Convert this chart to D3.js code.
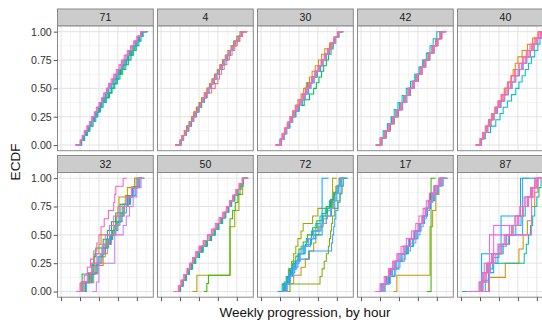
<!DOCTYPE html>
<html>
<head>
<meta charset="utf-8">
<script src="https://cdn.jsdelivr.net/npm/d3@7"></script>
<style>
body { margin: 0; background: #fff; }
svg { display: block; font-family: "Liberation Sans", Arial, sans-serif; }
</style>
</head>
<body>
<svg id="chart" width="542" height="322"></svg>
<script>
// facets, in drawing order (2 rows x 5 columns)
const panels = ["71", "4", "30", "42", "40", "32", "50", "72", "17", "87"]
const yTicks = [0, 0.25, 0.5, 0.75, 1]
const xTicks = [0, 36, 72, 108, 144]
const xDomain = [1.5, 167]
const levels = d3.range(1, 21)
const palette = ["#F8766D", "#EA8331", "#D89000", "#C09B00", "#A3A500", "#7CAE00", "#39B600",
    "#00BB4E", "#00BF7D", "#00C1A3", "#00BFC4", "#00BAE0", "#00B0F6", "#35A2FF", "#9590FF",
    "#C77CFF", "#E76BF3", "#FA62DB", "#FF62BC", "#FF6C91"]

// series level (colour) and observed hours, one list per series
const ids71 = [8, 12, 19, 17, 3, 6, 14, 10]
const obs71 = [
    [38, 42, 48, 53, 57, 63, 68, 72, 77, 83, 89, 95, 99, 104, 108, 113, 118, 124, 128, 134, 139, 144, 149, 154],
    [37, 41, 46, 50, 56, 61, 66, 71, 75, 80, 85, 90, 95, 100, 106, 110, 116, 121, 126, 131, 137, 142, 147, 153],
    [36, 40, 44, 49, 54, 58, 63, 67, 72, 77, 81, 86, 90, 95, 100, 105, 110, 115, 120, 126, 132, 138, 144, 151],
    [37, 41, 45, 50, 55, 60, 64, 68, 73, 78, 82, 87, 92, 97, 102, 107, 112, 117, 122, 128, 133, 139, 145, 152],
    [38, 43, 47, 51, 55, 60, 65, 70, 74, 79, 84, 88, 93, 98, 103, 109, 114, 119, 125, 130, 135, 141, 146, 152],
    [39, 44, 49, 54, 59, 64, 69, 73, 78, 84, 90, 96, 101, 106, 110, 115, 120, 125, 131, 136, 141, 146, 150, 155],
    [37, 42, 47, 52, 57, 62, 67, 71, 76, 81, 86, 91, 96, 101, 105, 111, 116, 122, 127, 132, 137, 143, 148, 153],
    [39, 45, 50, 55, 61, 66, 70, 75, 80, 86, 92, 97, 102, 107, 112, 117, 123, 128, 133, 138, 143, 148, 152, 156]
]

const ids4 = [1, 11, 19, 13, 7, 20, 16, 3]
const obs4 = [
    [37, 41, 46, 51, 56, 61, 66, 71, 76, 82, 88, 96, 103, 108, 111, 115, 120, 125, 130, 135, 140, 145, 150, 155],
    [38, 43, 48, 53, 58, 62, 67, 72, 77, 82, 86, 91, 96, 101, 106, 111, 116, 121, 126, 131, 136, 141, 147, 153],
    [36, 40, 45, 50, 55, 59, 64, 69, 74, 79, 83, 88, 93, 98, 103, 108, 113, 118, 123, 129, 134, 140, 146, 152],
    [38, 42, 47, 52, 57, 62, 67, 72, 77, 81, 86, 91, 96, 101, 106, 111, 116, 121, 127, 132, 137, 142, 148, 153],
    [36, 40, 45, 49, 54, 59, 63, 68, 73, 78, 83, 88, 92, 97, 102, 107, 112, 117, 122, 127, 133, 138, 144, 150],
    [37, 41, 46, 51, 55, 60, 65, 70, 75, 79, 84, 89, 94, 99, 104, 109, 114, 119, 124, 130, 135, 141, 147, 154],
    [37, 42, 46, 51, 56, 61, 66, 70, 75, 80, 85, 90, 95, 100, 105, 110, 115, 120, 125, 131, 136, 141, 147, 154],
    [36, 40, 44, 49, 53, 58, 62, 67, 72, 77, 82, 87, 92, 97, 102, 107, 112, 118, 124, 130, 136, 142, 148, 154]
]

const ids30 = [8, 3, 19, 17, 12, 10, 20, 7, 15]
const obs30 = [
    [37, 42, 47, 53, 58, 64, 72, 82, 92, 100, 105, 110, 115, 119, 124, 128, 133, 137, 142, 147],
    [36, 40, 45, 50, 55, 60, 65, 70, 76, 81, 86, 92, 97, 103, 109, 115, 121, 130, 138, 146],
    [36, 40, 45, 50, 55, 61, 66, 72, 78, 84, 90, 96, 102, 108, 114, 120, 126, 132, 139, 145],
    [37, 42, 47, 52, 58, 63, 69, 75, 81, 87, 93, 99, 104, 110, 116, 122, 128, 134, 140, 146],
    [39, 44, 49, 55, 60, 66, 72, 78, 84, 90, 95, 101, 107, 113, 118, 124, 130, 136, 141, 147],
    [37, 41, 46, 52, 57, 63, 69, 74, 80, 86, 92, 98, 103, 109, 115, 121, 127, 133, 140, 147],
    [36, 41, 46, 51, 56, 62, 67, 73, 79, 85, 91, 97, 103, 109, 115, 121, 127, 133, 139, 145],
    [38, 43, 48, 54, 60, 66, 72, 78, 82, 85, 88, 97, 106, 112, 117, 123, 128, 133, 140, 148],
    [38, 43, 48, 53, 59, 64, 70, 76, 82, 88, 94, 100, 105, 111, 117, 123, 129, 135, 141, 148]
]

const ids42 = [11, 4, 19, 17, 12, 8, 20, 16]
const obs42 = [
    [36, 42, 50, 57, 63, 70, 78, 86, 94, 102, 110, 117, 124, 131, 137, 144],
    [38, 46, 54, 62, 69, 76, 84, 92, 99, 106, 113, 121, 128, 135, 142, 150],
    [37, 45, 53, 61, 68, 75, 83, 91, 98, 106, 113, 120, 128, 135, 143, 151],
    [39, 47, 55, 62, 70, 78, 86, 93, 101, 108, 116, 123, 130, 138, 145, 152],
    [37, 44, 51, 58, 66, 73, 81, 89, 97, 104, 112, 119, 127, 135, 142, 150],
    [40, 48, 56, 63, 71, 79, 87, 94, 101, 109, 116, 123, 131, 139, 146, 153],
    [38, 45, 53, 60, 67, 75, 83, 90, 98, 106, 114, 122, 130, 138, 146, 154],
    [38, 46, 54, 61, 69, 77, 85, 92, 100, 107, 115, 122, 129, 136, 143, 150]
]

const ids40 = [1, 11, 3, 19, 20, 17, 13]
const obs40 = [
    [36, 41, 46, 52, 58, 64, 70, 76, 82, 88, 95, 102, 110, 118, 126, 134, 142, 150],
    [38, 46, 56, 66, 74, 80, 88, 96, 104, 110, 116, 122, 128, 134, 140, 146, 150, 155],
    [37, 42, 48, 54, 60, 66, 72, 78, 84, 90, 95, 99, 103, 108, 116, 126, 136, 146],
    [36, 41, 47, 53, 59, 65, 71, 77, 83, 89, 96, 103, 110, 117, 124, 131, 139, 147],
    [37, 43, 49, 55, 61, 67, 73, 80, 87, 94, 101, 108, 115, 122, 129, 136, 143, 151],
    [38, 44, 50, 56, 62, 68, 75, 82, 89, 96, 103, 110, 117, 124, 131, 138, 145, 153],
    [39, 45, 51, 57, 63, 69, 76, 83, 90, 97, 104, 111, 118, 125, 132, 139, 146, 154]
]

const ids32 = [16, 19, 8, 4, 20, 12, 10, 13, 1, 3, 17]
const obs32 = [
    [67, 72, 72, 102, 102, 102, 118, 124, 130, 137, 144, 152],
    [36, 44, 50, 56, 62, 68, 72, 76, 82, 90, 100, 102, 104, 118],
    [38, 40, 58, 62, 66, 80, 88, 96, 104, 112, 126, 138, 146],
    [40, 52, 60, 64, 72, 76, 100, 104, 108, 110, 126, 140],
    [44, 56, 64, 74, 82, 92, 104, 112, 120, 128, 134, 146],
    [46, 58, 66, 70, 80, 90, 96, 108, 116, 124, 132, 142, 150],
    [42, 54, 62, 72, 78, 86, 98, 106, 114, 120, 130, 138, 148],
    [48, 60, 68, 76, 84, 94, 102, 110, 118, 126, 136, 144],
    [40, 56, 70, 78, 88, 96, 104, 106, 120, 128, 136, 148],
    [46, 62, 70, 80, 84, 88, 98, 104, 112, 116, 122, 134, 140],
    [38, 50, 58, 68, 78, 84, 92, 100, 110, 124, 138, 146]
]

const ids50 = [7, 5, 19, 20, 17, 12, 9, 10, 8]
const obs50 = [
    [87, 90, 131, 131, 131, 131, 131, 131, 131, 136, 141, 146, 150, 156],
    [68, 131, 131, 131, 140, 148, 155],
    [34, 38, 44, 50, 55, 60, 66, 72, 80, 88, 96, 103, 110, 117, 124, 130, 136, 142, 148, 154],
    [35, 40, 45, 51, 56, 62, 68, 75, 83, 91, 99, 106, 113, 120, 126, 132, 138, 144, 150, 155],
    [33, 38, 43, 49, 54, 60, 66, 73, 81, 89, 97, 105, 112, 119, 125, 131, 137, 143, 149, 155],
    [36, 41, 47, 53, 58, 64, 70, 78, 86, 94, 102, 109, 116, 122, 128, 134, 140, 146, 151, 156],
    [35, 40, 46, 52, 58, 63, 70, 77, 85, 93, 101, 108, 115, 122, 128, 133, 139, 145, 150, 155],
    [36, 42, 48, 54, 59, 65, 72, 79, 86, 94, 101, 108, 115, 121, 127, 133, 139, 145, 151, 156],
    [37, 42, 48, 54, 60, 66, 73, 80, 88, 96, 103, 110, 117, 123, 129, 134, 140, 146, 152, 156]
]

const ids72 = [13, 5, 6, 14, 7, 10, 11, 15, 4, 12]
const obs72 = [
    [44, 56, 64, 72, 84, 96, 116, 116, 116, 116, 116, 116],
    [42, 48, 52, 58, 62, 66, 70, 76, 80, 98, 108, 136, 136, 136, 136],
    [55, 112, 116, 120, 124, 128, 130, 132, 134, 136, 140, 146, 150, 154, 156],
    [46, 52, 58, 70, 90, 134, 136, 138, 140, 142, 146, 150, 152, 156],
    [44, 50, 56, 60, 66, 72, 80, 88, 98, 106, 116, 124, 132, 138, 146, 152],
    [46, 54, 60, 66, 72, 80, 90, 100, 108, 118, 126, 134, 140, 146, 150],
    [40, 48, 54, 62, 70, 76, 86, 96, 104, 112, 122, 130, 138, 144, 150],
    [50, 56, 62, 68, 74, 80, 90, 100, 112, 124, 132, 138, 142, 146, 150],
    [42, 62, 76, 84, 92, 100, 104, 110, 118, 126, 132, 138, 142, 148],
    [48, 54, 60, 66, 74, 82, 94, 104, 114, 124, 134, 140, 144, 148, 152]
]

const ids17 = [7, 4, 19, 17, 18, 12, 10, 8, 15, 13]
const obs17 = [
    [133],
    [68, 131, 131, 131, 136, 142, 148],
    [38, 46, 54, 62, 70, 80, 90, 100, 108, 116, 122, 128, 134, 140, 148],
    [40, 50, 58, 66, 74, 84, 94, 104, 112, 118, 124, 130, 136, 144, 154],
    [36, 44, 52, 60, 68, 76, 86, 96, 104, 110, 118, 124, 130, 138, 150],
    [42, 52, 60, 68, 78, 88, 98, 108, 114, 120, 126, 132, 138, 146, 156],
    [44, 54, 64, 72, 82, 90, 100, 106, 112, 118, 124, 128, 134, 142, 152],
    [40, 48, 58, 66, 76, 86, 94, 102, 110, 116, 122, 128, 132, 140, 150],
    [46, 56, 66, 74, 84, 94, 104, 112, 118, 124, 130, 136, 142, 150],
    [38, 48, 56, 64, 72, 82, 92, 102, 112, 120, 126, 132, 140, 146, 154]
]

const ids87 = [13, 17, 14, 19, 20, 10, 3, 16, 18, 15, 12]
const obs87 = [
    [39, 76, 113],
    [54, 54, 54, 134, 134, 140],
    [40, 52, 60, 72, 86, 117, 117, 117, 117, 117],
    [36, 44, 50, 58, 70, 84, 96, 104, 112, 120, 132, 140],
    [40, 46, 52, 62, 76, 90, 98, 108, 118, 126, 136, 146],
    [36, 42, 48, 120, 124, 128, 132, 136, 140, 144, 148, 152],
    [52, 84, 110, 118, 126, 134, 140, 146],
    [34, 42, 50, 60, 72, 82, 92, 102, 112, 122, 134, 144],
    [38, 40, 44, 62, 62, 62, 62, 108, 118, 128, 136, 146],
    [42, 48, 56, 66, 78, 90, 100, 110, 118, 126, 134, 142],
    [46, 54, 62, 70, 80, 92, 104, 114, 122, 128, 136, 144]
]

const panelIds = [ids71, ids4, ids30, ids42, ids40, ids32, ids50, ids72, ids17, ids87]
const panelObs = [obs71, obs4, obs30, obs42, obs40, obs32, obs50, obs72, obs17, obs87]

const left0 = 57.5, pitch = 100, panelW = 95.8
const rowTop = [9, 155.5], stripH = 17, panelH = 124.7

const svg = d3.select('#chart')

const w = xDomain[1] - xDomain[0]
const x = d3.scaleLinear()
    .domain([xDomain[0] - 0.05 * w, xDomain[1] + 0.05 * w])
    .range([0, panelW])
const y = d3.scaleLinear()
    .domain([-0.05, 1.05])
    .range([panelH, 0])
const colour = d3.scaleOrdinal().domain(levels).range(palette)

const xMinor = d3.pairs(xTicks, (a, b) => (a + b) / 2).concat([xTicks[4] + 18])
const yMinor = d3.pairs(yTicks, (a, b) => (a + b) / 2)

// ecdf points as old stat_ecdf: padded by max(8% of range, median gap)
const ecdf = v => {
    const s = v.slice().sort(d3.ascending)
    const xs = Array.from(new Set(s))
    const n = s.length
    const r = d3.extent(xs)
    const dr = xs.length > 1
        ? Math.max(0.08 * (r[1] - r[0]), d3.median(d3.pairs(xs, (a, b) => b - a)))
        : Math.abs(xs[0]) / 16
    return [[r[0] - dr, 0]]
        .concat(xs.map(d => [d, d3.bisectRight(s, d) / n]))
        .concat([[r[1] + dr, 1]])
}

const line = d3.line()
    .x(d => x(d[0]))
    .y(d => y(d[1]))
    .curve(d3.curveStepAfter)

panels.forEach((name, p) => {
    const row = Math.floor(p / 5), col = p % 5
    const px = left0 + col * pitch
    const top = rowTop[row]

    const strip = svg.append('g').attr('transform', `translate(${px},${top})`)
    strip.append('rect')
        .attr('width', panelW).attr('height', stripH)
        .attr('fill', '#cccccc').attr('stroke', '#8a8a8a').attr('stroke-width', 1)
    strip.append('text')
        .attr('x', panelW / 2).attr('y', stripH / 2 + 3.8)
        .attr('text-anchor', 'middle')
        .attr('font-size', '10.5px').attr('fill', '#1a1a1a')
        .text(name)

    const g = svg.append('g').attr('transform', `translate(${px},${top + stripH})`)
    g.append('rect').attr('width', panelW).attr('height', panelH).attr('fill', '#fff')

    g.selectAll('.vminor').data(xMinor).join('line')
        .attr('x1', d => x(d)).attr('x2', d => x(d))
        .attr('y1', 0).attr('y2', panelH)
        .attr('stroke', '#f4f4f4').attr('stroke-width', 1)
    g.selectAll('.hminor').data(yMinor).join('line')
        .attr('y1', d => y(d)).attr('y2', d => y(d))
        .attr('x1', 0).attr('x2', panelW)
        .attr('stroke', '#f4f4f4').attr('stroke-width', 1)
    g.selectAll('.vmajor').data(xTicks).join('line')
        .attr('x1', d => x(d)).attr('x2', d => x(d))
        .attr('y1', 0).attr('y2', panelH)
        .attr('stroke', '#e3e3e3').attr('stroke-width', 1)
    g.selectAll('.hmajor').data(yTicks).join('line')
        .attr('y1', d => y(d)).attr('y2', d => y(d))
        .attr('x1', 0).attr('x2', panelW)
        .attr('stroke', '#e3e3e3').attr('stroke-width', 1)

    g.append('clipPath').attr('id', `clip${p}`)
        .append('rect').attr('width', panelW).attr('height', panelH)

    const series = panelObs[p].map((v, i) => ({ id: panelIds[p][i], pts: ecdf(v) }))
        .sort((a, b) => a.id - b.id)

    g.append('g').attr('clip-path', `url(#clip${p})`)
        .selectAll('path').data(series).join('path')
        .attr('d', d => line(d.pts))
        .attr('fill', 'none')
        .attr('stroke', d => colour(d.id))
        .attr('stroke-width', 1.05)

    g.append('rect').attr('width', panelW).attr('height', panelH)
        .attr('fill', 'none').attr('stroke', '#8a8a8a').attr('stroke-width', 1)

    if (col === 0) {
        const ax = g.append('g')
            .call(d3.axisLeft(y).tickValues(yTicks).tickFormat(d3.format('.2f')).tickSize(3.8).tickPadding(2))
        ax.select('.domain').remove()
        ax.selectAll('line').attr('stroke', '#555')
        ax.selectAll('text').attr('font-size', '10.6px').attr('fill', '#333')
            .attr('font-family', '"Liberation Sans", Arial, sans-serif')
    }
    if (row === 1) {
        const ax = g.append('g').attr('transform', `translate(0,${panelH})`)
            .call(d3.axisBottom(x).tickValues(xTicks).tickFormat('').tickSize(4))
        ax.select('.domain').remove()
        ax.selectAll('line').attr('stroke', '#555')
    }
})

svg.append('text')
    .attr('transform', `translate(20,162) rotate(-90)`)
    .attr('text-anchor', 'middle')
    .attr('font-size', '13.5px').attr('fill', '#111')
    .text('ECDF')

svg.append('text')
    .attr('x', 305).attr('y', 317)
    .attr('text-anchor', 'middle')
    .attr('font-size', '13.5px').attr('fill', '#111')
    .text('Weekly progression, by hour')
</script>
</body>
</html>
